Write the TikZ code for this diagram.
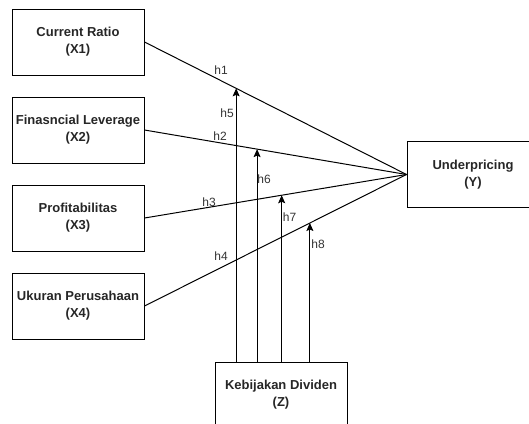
\documentclass[tikz,border=0pt]{standalone}
\usepackage{fontspec}
\setmainfont{Liberation Sans}
\usetikzlibrary{arrows.meta,calc}
\begin{document}
\begin{tikzpicture}[x=1pt,y=-1pt,
  varbox/.style={draw=black, line width=1pt, minimum width=132pt, minimum height=66pt,
    inner sep=0pt, align=center, font=\bfseries\fontsize{13}{17}\selectfont, text=black!85},
  hlabel/.style={font=\fontsize{12}{14}\selectfont, text=black!80, inner sep=0pt},
  link/.style={draw=black, line width=1pt},
  modarrow/.style={draw=black, line width=1pt, -{Stealth[length=8pt,width=7pt,inset=1.5pt]}}]
\useasboundingbox (0,0) rectangle (529,423);
\node[varbox] (x1) at (78,42) {Current Ratio\\(X1)};
\node[varbox] (x2) at (78,130) {Finasncial Leverage\\(X2)};
\node[varbox] (x3) at (78,218) {Profitabilitas\\(X3)};
\node[varbox] (x4) at (78,306) {Ukuran Perusahaan\\(X4)};
\node[varbox] (y) at (473,174.5) {Underpricing\\(Y)};
\node[varbox] (z) at (281,395) {Kebijakan Dividen\\(Z)};

\draw[link] (x1.east) -- (y.west);
\draw[link] (x2.east) -- (y.west);
\draw[link] (x3.east) -- (y.west);
\draw[link] (x4.east) -- (y.west);

\coordinate (a1) at ($(x1.east)!0.3498!(y.west)$);
\coordinate (a2) at ($(x2.east)!0.4297!(y.west)$);
\coordinate (a3) at ($(x3.east)!0.5236!(y.west)$);
\coordinate (a4) at ($(x4.east)!0.6312!(y.west)$);

\draw[modarrow] (z.north -| a1) -- (a1);
\draw[modarrow] (z.north -| a2) -- (a2);
\draw[modarrow] (z.north -| a3) -- (a3);
\draw[modarrow] (z.north -| a4) -- (a4);

\node[hlabel] (l1) at (221,70) {h1};
\node[hlabel] (l5) at (227,113) {h5};
\node[hlabel] (l2) at (220,136) {h2};
\node[hlabel] (l6) at (264,179) {h6};
\node[hlabel] (l3) at (209,202) {h3};
\node[hlabel] (l7) at (289.5,217.5) {h7};
\node[hlabel] (l8) at (318,244) {h8};
\node[hlabel] (l4) at (221,256) {h4};
\end{tikzpicture}
\end{document}
